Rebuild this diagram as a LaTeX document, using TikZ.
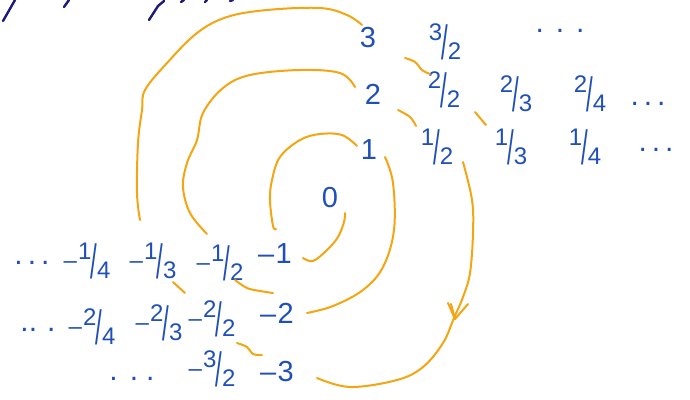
\documentclass[tikz,border=0pt]{standalone}
\usepackage{fontspec}
\setmainfont{Liberation Sans}
\usepackage{graphicx}
\definecolor{ink}{HTML}{1F4FB8}
\definecolor{pen}{HTML}{F5A511}
\definecolor{navy}{HTML}{1C1A7A}
\newcommand{\fr}[2]{\raisebox{0.36em}{#1}\kern-0.02em\raisebox{-0.42em}{\scalebox{1}[2.0]{/}}\kern-0.02em\raisebox{-0.42em}{#2}}
\newcommand{\mn}{\kern0pt–\kern0.05em}
\begin{document}
\begin{tikzpicture}[x=1pt,y=-1pt,
  lbl/.style={text=ink, inner sep=0pt, font=\fontsize{24}{24}\selectfont},
  big/.style={text=ink, inner sep=0pt, font=\fontsize{29}{29}\selectfont},
  dots/.style={text=ink, inner sep=0pt, font=\fontsize{30}{30}\selectfont},
  arc/.style={draw=pen, line width=2pt, line cap=round, line join=round},
  scrib/.style={draw=navy, line width=2.4pt, line cap=round}]
\useasboundingbox (0,0) rectangle (690,399);
% labels
\node[big] (n3) at (368,38) {3};
\node[lbl] (n32) at (445,42) {\fr{3}{2}};
\node[dots] (ntd) at (560,31) {.\hspace{12pt}.\hspace{12pt}.};
\node[big] (n2) at (373,94) {2};
\node[lbl] (n22) at (444,90) {\fr{2}{2}};
\node[lbl] (n23) at (516,94) {\fr{2}{3}};
\node[lbl] (n24) at (590,94) {\fr{2}{4}};
\node[dots] (n2d) at (648,104) {.\hspace{5pt}.\hspace{5pt}.};
\node[big] (n1) at (369,150) {1};
\node[lbl] (n12) at (437,147) {\fr{1}{2}};
\node[lbl] (n13) at (511,147) {\fr{1}{3}};
\node[lbl] (n14) at (585,147) {\fr{1}{4}};
\node[dots] (n1d) at (656,150) {.\hspace{5pt}.\hspace{5pt}.};
\node[big] (n0) at (330,198) {0};
\node[big] (m1) at (275,254) {\mn1};
\node[lbl] (m12) at (220,263) {\mn\fr{1}{2}};
\node[lbl] (m13) at (153,261) {\mn\fr{1}{3}};
\node[lbl] (m14) at (87,261) {\mn\fr{1}{4}};
\node[dots] (m1d) at (32,263) {.\hspace{5pt}.\hspace{5pt}.};
\node[big] (m2) at (277,313) {\mn2};
\node[lbl] (m22) at (212,319) {\mn\fr{2}{2}};
\node[lbl] (m23) at (159,323) {\mn\fr{2}{3}};
\node[lbl] (m24) at (92,327) {\mn\fr{2}{4}};
\node[dots] (m2d) at (38,330) {.\hspace{0pt}.\hspace{10pt}.};
\node[big] (m3) at (277,372) {\mn3};
\node[lbl] (m32) at (212,369) {\mn\fr{3}{2}};
\node[dots] (m3d) at (132,379) {.\hspace{12pt}.\hspace{8pt}.};
% spiral arcs
\coordinate (a1) at (357,146); \coordinate (a2) at (276,229);
\draw[arc] plot[smooth,tension=0.6] coordinates {(a1) (342,135) (320,134) (300,140) (280,157) (272,180) (270,200) (273,226) (a2)};
\coordinate (b1) at (345,213); \coordinate (b2) at (303,258);
\draw[arc] plot[smooth,tension=0.6] coordinates {(b1) (344,222) (338,237) (327,250) (313,261) (b2)};
\coordinate (c1) at (385,157); \coordinate (c2) at (307,313);
\draw[arc] plot[smooth,tension=0.6] coordinates {(c1) (393,183) (394,230) (383,267) (363,290) (333,306) (c2)};
\coordinate (d1) at (355,87); \coordinate (d2) at (207,234);
\draw[arc] plot[smooth,tension=0.6] coordinates {(d1) (340,73) (300,70) (250,75) (223,88) (203,113) (197,140) (187,163) (183,187) (190,213) (d2)};
\coordinate (e1) at (362,25); \coordinate (e2) at (140,220);
\draw[arc] plot[smooth,tension=0.6] coordinates {(e1) (347,15) (320,8) (267,10) (227,17) (197,33) (167,63) (145,90) (142,110) (138,143) (137,193) (e2)};
\coordinate (f1) at (463,162); \coordinate (f2) at (317,378);
\draw[arc] plot[smooth,tension=0.6] coordinates {(f1) (472,200) (473,233) (470,273) (463,297) (454,318) (443,343) (423,367) (397,380) (350,387) (f2)};
\coordinate (tip) at (455,319);
\draw[arc] (tip) -- ++(-7,-16);
\draw[arc] (tip) -- ++(13,-15);
\draw[arc] (tip) -- ++(-4,-15);
% small connectors
\coordinate (s1a) at (405,58); \coordinate (s1b) at (430,74);
\draw[arc] plot[smooth,tension=0.6] coordinates {(s1a) (415,62) (422,70) (s1b)};
\coordinate (s2a) at (398,110); \coordinate (s2b) at (416,126);
\draw[arc] plot[smooth,tension=0.6] coordinates {(s2a) (410,117) (s2b)};
\coordinate (s3a) at (475,112); \coordinate (s3b) at (486,125);
\draw[arc] (s3a) -- (s3b);
\coordinate (s4a) at (173,282); \coordinate (s4b) at (185,293);
\draw[arc] (s4a) -- (s4b);
\coordinate (s5a) at (235,280); \coordinate (s5b) at (273,293);
\draw[arc] plot[smooth,tension=0.6] coordinates {(s5a) (247,288) (260,291) (s5b)};
\coordinate (s6a) at (237,343); \coordinate (s6b) at (262,355);
\draw[arc] plot[smooth,tension=0.6] coordinates {(s6a) (247,347) (253,354) (s6b)};
% cut-off scribbles at top edge
\draw[scrib] (3,21) -- (15,0);
\draw[scrib] (64,7) -- (69,0);
\draw[scrib] (149,20) -- (158,6) -- (164,1);
\draw[scrib] (181,2) -- (184,0);
\draw[scrib] (205,2) -- (207,0);
\draw[scrib] (230,1) -- (233,0);
\end{tikzpicture}
\end{document}
